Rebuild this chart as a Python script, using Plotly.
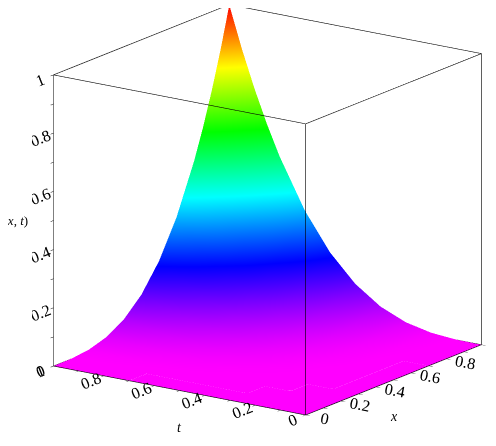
import plotly.graph_objects as go

# grid positions (denser near the peak)
x_vals = [0, 0.1, 0.2, 0.3, 0.4, 0.5, 0.6, 0.7, 0.8, 0.85, 0.9, 0.95, 1]
t_vals = [0, 0.1, 0.2, 0.3, 0.4, 0.5, 0.6, 0.7, 0.8, 0.85, 0.9, 0.95, 1]

# u(x, t), rows = t, columns = x
u_vals = [
    [0, 0, 0, 0, 0, 0, 0, 0, 0, 0, 0, 0, 0],
    [0, 0, 0, 0, 0, 0, 0, 0, 0.001, 0.001, 0.001, 0.001, 0.001],
    [0, 0, 0, 0, 0.001, 0.001, 0.002, 0.003, 0.004, 0.005, 0.006, 0.007, 0.008],
    [0, 0, 0, 0.001, 0.002, 0.003, 0.006, 0.009, 0.014, 0.017, 0.020, 0.023, 0.027],
    [0, 0, 0.001, 0.002, 0.004, 0.008, 0.014, 0.022, 0.033, 0.039, 0.047, 0.055, 0.064],
    [0, 0, 0.001, 0.003, 0.008, 0.016, 0.027, 0.043, 0.064, 0.077, 0.091, 0.107, 0.125],
    [0, 0, 0.002, 0.006, 0.014, 0.027, 0.047, 0.074, 0.111, 0.133, 0.157, 0.185, 0.216],
    [0, 0, 0.003, 0.009, 0.022, 0.043, 0.074, 0.118, 0.176, 0.211, 0.250, 0.294, 0.343],
    [0, 0.001, 0.004, 0.014, 0.033, 0.064, 0.111, 0.176, 0.262, 0.314, 0.373, 0.439, 0.512],
    [0, 0.001, 0.005, 0.017, 0.039, 0.077, 0.133, 0.211, 0.314, 0.377, 0.448, 0.526, 0.614],
    [0, 0.001, 0.006, 0.020, 0.047, 0.091, 0.157, 0.250, 0.373, 0.448, 0.531, 0.625, 0.729],
    [0, 0.001, 0.007, 0.023, 0.055, 0.107, 0.185, 0.294, 0.439, 0.526, 0.625, 0.734, 0.857],
    [0, 0.001, 0.008, 0.027, 0.064, 0.125, 0.216, 0.343, 0.512, 0.614, 0.729, 0.857, 1],
]

tick_vals = [0, 0.1, 0.2, 0.3, 0.4, 0.5, 0.6, 0.7, 0.8, 0.9, 1]
tick_text = ['0', '', '0.2', '', '0.4', '', '0.6', '', '0.8', '', '1']

# maple style "zhue" colouring
zhue = [
    [0.0, '#ff00ff'],
    [0.2, '#0000ff'],
    [0.4, '#00ffff'],
    [0.6, '#00ff00'],
    [0.8, '#ffff00'],
    [1.0, '#ff0000'],
]

lo, hi = 0, 1  # axis range, used for the box frame

fig = go.Figure()

fig.add_trace(go.Surface(
    x=x_vals,
    y=t_vals,
    z=u_vals,
    colorscale=zhue,
    cmin=0,
    cmax=1,
    showscale=False,
    lighting=dict(ambient=1, diffuse=0, specular=0, fresnel=0, roughness=1),
    hoverinfo='skip'
))

# boxed axes: the 12 edges of the frame
bx, by, bz = [], [], []
for a in (lo, hi):
    for b in (lo, hi):
        bx += [lo, hi, None]; by += [a, a, None]; bz += [b, b, None]
        bx += [a, a, None]; by += [lo, hi, None]; bz += [b, b, None]
        bx += [a, a, None]; by += [b, b, None]; bz += [lo, hi, None]

fig.add_trace(go.Scatter3d(
    x=bx, y=by, z=bz,
    mode='lines',
    line=dict(color='black', width=1.2),
    hoverinfo='skip',
    showlegend=False
))

serif = dict(family='Liberation Serif', size=14, color='black', style='normal')

axis_style = dict(
    range=[lo, hi],
    showbackground=False,
    showgrid=False,
    zeroline=False,
    showline=False,
    ticks='outside',
    ticklen=5,
    tickcolor='black',
    tickmode='array',
    tickvals=tick_vals,
    ticktext=tick_text,
    tickfont=serif,
    showspikes=False,
    title=dict(text=''),
)

mid = (lo + hi) / 2

fig.update_layout(
    width=496,
    height=446,
    margin=dict(l=0, r=0, t=0, b=0),
    paper_bgcolor='white',
    showlegend=False,
    scene=dict(
        domain=dict(x=[0.048, 0.998], y=[0.05, 1.0]),
        aspectmode='manual',
        aspectratio=dict(x=1.45, y=1.45, z=1.43),
        xaxis=axis_style,
        yaxis=axis_style,
        zaxis=axis_style,
        camera=dict(
            eye=dict(x=-1.98, y=-1.38, z=0.65),
            center=dict(x=0, y=0, z=-0.05),
            up=dict(x=0, y=0, z=1),
            projection=dict(type='orthographic')
        ),
        annotations=[
            dict(x=lo, y=mid, z=lo, text='<i>t</i>',
                 showarrow=False, yshift=-37, font=serif),
            dict(x=mid, y=lo, z=lo, text='<i>x</i>',
                 showarrow=False, yshift=-37, font=serif),
        ]
    ),
    # z label sits left of the box, partly off the page as in the original
    annotations=[dict(
        xref='paper', yref='paper',
        x=0.045, y=0.524,
        xanchor='right', yanchor='middle',
        text='<i>u</i>(<i>x</i>, <i>t</i>)',
        showarrow=False,
        font=dict(serif, size=13)
    )]
)

fig.write_html("out.html")
